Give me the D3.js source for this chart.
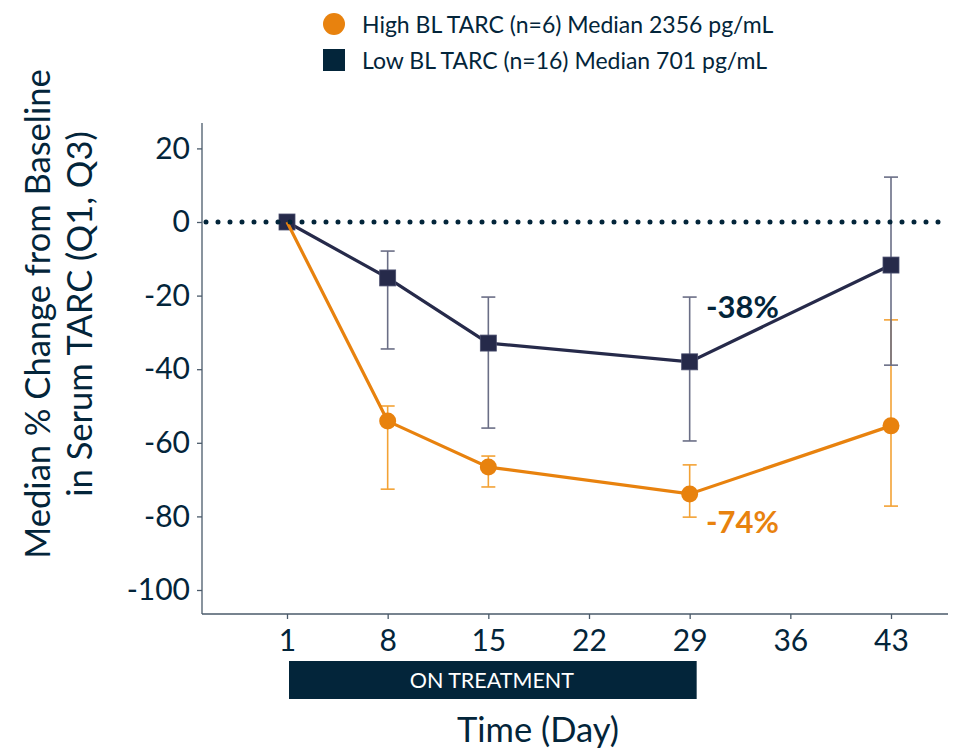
<!DOCTYPE html>
<html><head><meta charset="utf-8">
<script src="https://cdn.jsdelivr.net/npm/d3@7"></script>
<style>body{margin:0;background:#fff}svg{display:block;font-family:Lato,"Open Sans",sans-serif}</style>
</head><body><svg id="c" width="953" height="750"></svg>
<script>
const days = [1, 8, 15, 29, 43];
const xTicks = [1, 8, 15, 22, 29, 36, 43];
const yTicks = [20, 0, -20, -40, -60, -80, -100];
const highMedian = [0, -54.1, -66.6, -73.9, -55.4];
const highQ1 = [0, -72.6, -72.0, -80.2, -77.2];
const highQ3 = [0, -50.0, -63.6, -66.0, -26.6];
const lowMedian = [0, -15.2, -32.9, -38.0, -11.7];
const lowQ1 = [0, -34.5, -56.0, -59.5, -38.9];
const lowQ3 = [0, -7.9, -20.4, -20.4, 12.2];
const legendLabels = ["High BL TARC (n=6) Median 2356 pg/mL", "Low BL TARC (n=16) Median 701 pg/mL"];

const svg = d3.select("#c");
const x = d3.scaleLinear().domain([1, 43]).range([287, 891]);
const y = d3.scaleLinear().domain([0, -100]).range([222, 590]);
const pLeft = 202, pRight = 948, pTop = 123, pBottom = 614;
const orange = "#E8820E", navy = "#262A4A", dark = "#03253A", axisCol = "#4A5A6A";

// axes
const ya = svg.append("g").attr("transform", `translate(${pLeft},0)`)
  .call(d3.axisLeft(y).tickValues(yTicks).tickSize(5).tickPadding(7));
ya.select(".domain").attr("d", `M0,${pTop}V${pBottom}`);
const xa = svg.append("g").attr("transform", `translate(0,${pBottom})`)
  .call(d3.axisBottom(x).tickValues(xTicks).tickSize(5).tickPadding(11));
xa.select(".domain").attr("d", `M${pLeft},0H${pRight}`);
[ya, xa].forEach(a => {
  a.selectAll("path,line").attr("stroke", axisCol).attr("stroke-width", 1.3);
  a.selectAll("text").attr("fill", dark).attr("font-size", 30).attr("font-family", "Lato");
});
ya.selectAll("text").text(d => String(d));

// error bars
function errBars(q1, q3, col) {
  const g = svg.append("g").attr("stroke", col).attr("stroke-width", 1.6);
  days.forEach((d, i) => {
    if (i === 0) return;
    g.append("line").attr("x1", x(d)).attr("x2", x(d)).attr("y1", y(q3[i])).attr("y2", y(q1[i]));
    [q1[i], q3[i]].forEach(v => g.append("line").attr("x1", x(d) - 7).attr("x2", x(d) + 7).attr("y1", y(v)).attr("y2", y(v)));
  });
}
errBars(highQ1, highQ3, "#F3A235");
errBars(lowQ1, lowQ3, "#6A6E86");

const line = d3.line().x((d, i) => x(days[i])).y(d => y(d));
svg.append("g").selectAll("circle").data(highMedian.slice(1)).join("circle")
  .attr("cx", (d, i) => x(days[i + 1])).attr("cy", d => y(d)).attr("r", 8.5).attr("fill", orange);
svg.append("path").datum(lowMedian).attr("d", line).attr("fill", "none").attr("stroke", navy).attr("stroke-width", 3.2);
svg.append("g").selectAll("rect").data(lowMedian).join("rect")
  .attr("x", (d, i) => x(days[i]) - 8).attr("y", d => y(d) - 8).attr("width", 16).attr("height", 16)
  .attr("fill", navy).attr("stroke", "#4A4E6E").attr("stroke-width", 0.8);
svg.append("path").datum(highMedian).attr("d", line).attr("fill", "none").attr("stroke", orange).attr("stroke-width", 3.2);

// dotted zero line
svg.append("line").attr("x1", pLeft + 4).attr("x2", pRight - 6).attr("y1", y(0)).attr("y2", y(0))
  .attr("stroke", dark).attr("stroke-width", 5).attr("stroke-linecap", "round").attr("stroke-dasharray", "0 12");

// annotations
svg.append("text").attr("x", 706).attr("y", 318).attr("font-size", 31).attr("font-weight", 700).attr("fill", dark).text(Math.round(lowMedian[3]) + "%");
svg.append("text").attr("x", 706).attr("y", 533).attr("font-size", 31).attr("font-weight", 700).attr("fill", orange).text(Math.round(highMedian[3]) + "%");

// treatment bar
svg.append("rect").attr("x", x(1) + 2).attr("y", 661).attr("width", x(29) - x(1) + 5).attr("height", 38).attr("fill", dark);
svg.append("text").attr("x", (x(1) + x(29) + 7) / 2).attr("y", 688).attr("text-anchor", "middle")
  .attr("font-size", 21.5).attr("fill", "#fff").text("ON TREATMENT");

// axis titles
svg.append("text").attr("x", 538).attr("y", 742).attr("text-anchor", "middle").attr("font-size", 34.5).attr("fill", dark).text("Time (Day)");
const yt = svg.append("text").attr("transform", "translate(50,314) rotate(-90)").attr("text-anchor", "middle").attr("font-size", 34.5).attr("fill", dark);
yt.append("tspan").attr("x", 0).attr("dy", 0).text("Median % Change from Baseline");
yt.append("tspan").attr("x", 0).attr("dy", 42).text("in Serum TARC (Q1, Q3)");

// legend
svg.append("circle").attr("cx", 334).attr("cy", 24).attr("r", 11).attr("fill", orange);
svg.append("rect").attr("x", 323).attr("y", 49).attr("width", 22).attr("height", 22).attr("fill", dark);
legendLabels.forEach((t, i) => svg.append("text").attr("x", 362).attr("y", 33 + i * 36).attr("font-size", 23).attr("fill", dark).text(t));
</script></body></html>
